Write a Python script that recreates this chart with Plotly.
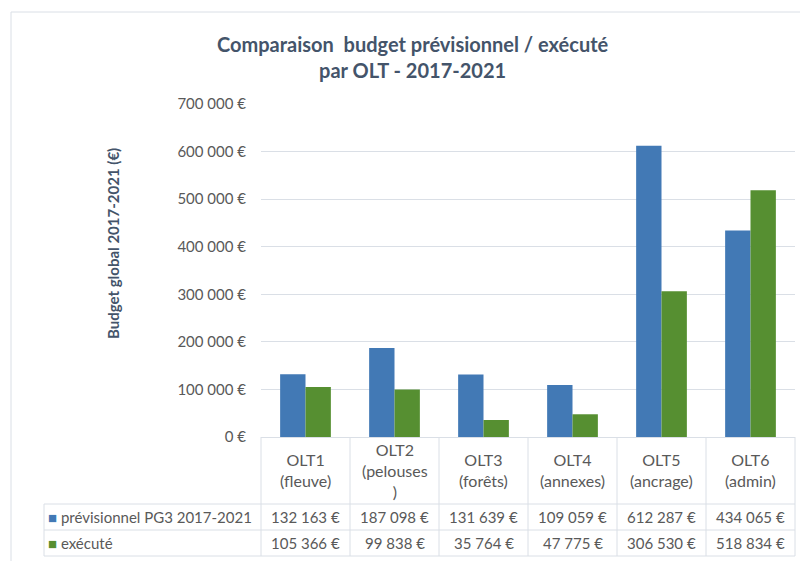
import plotly.graph_objects as go

categories = ["OLT1", "OLT2", "OLT3", "OLT4", "OLT5", "OLT6"]
cat_labels = ["OLT1<br>(fleuve)", "OLT2<br>(pelouses<br>)", "OLT3<br>(forêts)",
              "OLT4<br>(annexes)", "OLT5<br>(ancrage)", "OLT6<br>(admin)"]
previsionnel = [132163, 187098, 131639, 109059, 612287, 434065]
execute = [105366, 99838, 35764, 47775, 306530, 518834]
series_names = ["prévisionnel PG3 2017-2021", "exécuté"]
colors = ["#4279b5", "#568f31"]

W, H = 800, 561
L, R, T, B = 261, 795, 104, 437
FONT = "Lato"
GRID = "#dadfe6"
TXT = "#595959"


def px(x):
    return (x - L) / (R - L)


def py(y):
    return (B - y) / (B - T)


def fmt(v):
    return f"{v:,}".replace(",", " ") + " €"


fig = go.Figure()
for name, vals, col in zip(series_names, [previsionnel, execute], colors):
    fig.add_trace(go.Bar(x=categories, y=vals, name=name, marker=dict(color=col, line=dict(width=0))))

shapes = []
line = dict(color=GRID, width=1)
# outer chart border
shapes.append(dict(type="line", xref="paper", yref="paper", x0=px(11), x1=px(800), y0=py(12), y1=py(12), line=line))
shapes.append(dict(type="line", xref="paper", yref="paper", x0=px(11), x1=px(11), y0=py(12), y1=py(561), line=line))
# data table horizontal lines
for yy in [504, 530, 556]:
    shapes.append(dict(type="line", xref="paper", yref="paper", x0=px(44), x1=px(R), y0=py(yy), y1=py(yy), line=line))
# table vertical lines
n = len(categories)
for i in range(n + 1):
    xx = i / n
    shapes.append(dict(type="line", xref="paper", yref="paper", x0=xx, x1=xx, y0=py(B), y1=py(556), line=line))
shapes.append(dict(type="line", xref="paper", yref="paper", x0=px(44), x1=px(44), y0=py(504), y1=py(556), line=line))

annotations = []
for c, lab in zip(categories, cat_labels):
    annotations.append(dict(x=c, xref="x", y=py(470), yref="paper", text=lab, showarrow=False,
                            font=dict(family=FONT, size=16, color=TXT), xanchor="center", yanchor="middle"))
for row_y, vals in zip([517, 543], [previsionnel, execute]):
    for c, v in zip(categories, vals):
        annotations.append(dict(x=c, xref="x", y=py(row_y), yref="paper", text=fmt(v), showarrow=False,
                                font=dict(family=FONT, size=15, color=TXT), xanchor="center", yanchor="middle"))
for row_y, name, col in zip([517, 543], series_names, colors):
    annotations.append(dict(x=px(46), xref="paper", y=py(row_y), yref="paper",
                            text=f"<span style='color:{col}'>■</span> {name}", showarrow=False,
                            font=dict(family=FONT, size=15, color=TXT), xanchor="left", yanchor="middle"))
# title
annotations.append(dict(x=px(413), xref="paper", y=py(57), yref="paper",
                        text="<b>Comparaison  budget prévisionnel / exécuté<br>par OLT - 2017-2021</b>",
                        showarrow=False, font=dict(family=FONT, size=20, color="#44546a"),
                        xanchor="center", yanchor="middle"))
# y axis title
annotations.append(dict(x=px(113), xref="paper", y=py(244), yref="paper", text="<b>Budget global 2017-2021 (€)</b>",
                        textangle=-90, showarrow=False, font=dict(family=FONT, size=15, color="#44546a"),
                        xanchor="center", yanchor="middle"))

fig.update_layout(
    width=W, height=H,
    margin=dict(l=L, r=W - R, t=T, b=H - B),
    paper_bgcolor="white", plot_bgcolor="white",
    separators=", ",
    barmode="group", bargap=0.43, bargroupgap=0,
    showlegend=False,
    shapes=shapes, annotations=annotations,
    font=dict(family=FONT, color=TXT),
    xaxis=dict(showticklabels=False, showgrid=False, showline=True, linecolor=GRID, linewidth=1,
               ticks="", fixedrange=True),
    yaxis=dict(range=[0, 700000], dtick=100000, tickformat=",.0f", ticksuffix=" €",
               showgrid=True, gridcolor=GRID, gridwidth=1, zeroline=False, showline=False,
               ticks="", ticklabelstandoff=14, tickfont=dict(family=FONT, size=15, color=TXT)),
)

fig.write_html("out.html", config={"displayModeBar": False},
               post_script="document.body.style.margin='0px';document.body.style.overflow='hidden';")
